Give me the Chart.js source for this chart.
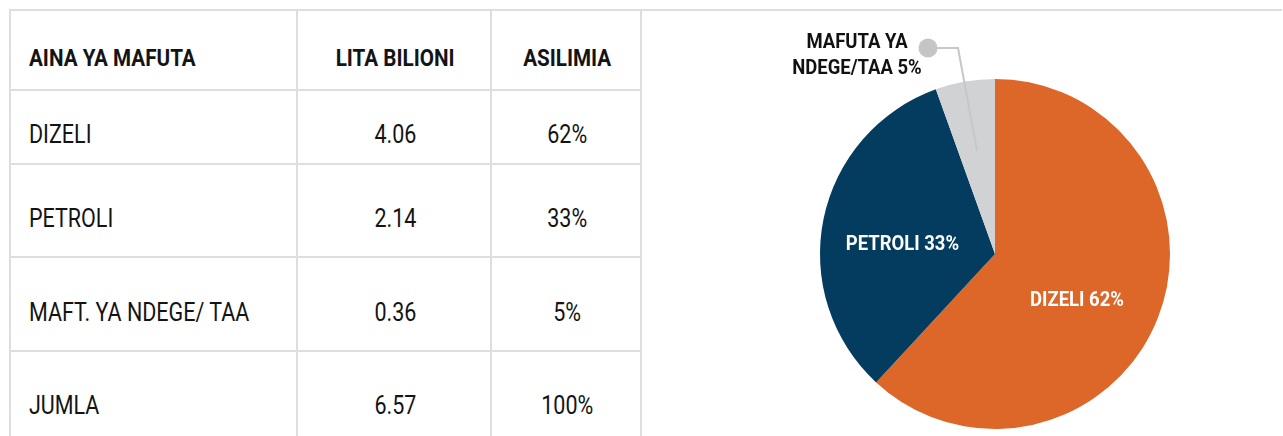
<!DOCTYPE html>
<html>
<head>
<meta charset="utf-8">
<script src="https://cdn.jsdelivr.net/npm/chart.js@4"></script>
<style>
    html, body { margin: 0; padding: 0; background: #fff; }
    body { width: 1283px; height: 436px; position: relative; overflow: hidden; font-family: Roboto, "Noto Sans", sans-serif; color: #141414; }
    .rule { position: absolute; background: #dedede; }
    .cell { position: absolute; font-size: 25px; line-height: 30px; white-space: nowrap; }
    .cell span { display: inline-block; transform: scaleX(0.86); }
    .cell.left span { transform-origin: left center; }
    .cell.mid { text-align: center; }
    .cell.mid span { transform-origin: center center; }
    .cell.head { font-weight: 700; font-size: 24px; }
    #pieBox { position: absolute; left: 643px; top: 12px; width: 640px; height: 424px; }
</style>
</head>
<body>
<div id="sheet"></div>
<div id="pieBox"><canvas id="pie"></canvas></div>
<script>
// table data
const headers = ["AINA YA MAFUTA", "LITA BILIONI", "ASILIMIA"];
const fuelTypes = ["DIZELI", "PETROLI", "MAFT. YA NDEGE/ TAA"];
const litresBn = [4.06, 2.14, 0.36];
const shares = ["62%", "33%", "5%"];
const totalRow = ["JUMLA", "6.57", "100%"];

// pie
const pieLabels = [["DIZELI 62%"], ["PETROLI 33%"], ["MAFUTA YA", "NDEGE/TAA 5%"]];
const pieColors = ["#dc6729", "#033c5e", "#d1d2d4"];

// table geometry
const colEdges = [10, 297, 491, 641];
const rowEdges = [10, 90, 164, 257, 351];
const textMid = [58, 135, 219, 313, 406];

const sheet = document.getElementById("sheet");

function rule(x, y, w, h) {
    const d = document.createElement("div");
    d.className = "rule";
    d.style.left = x + "px";
    d.style.top = y + "px";
    d.style.width = w + "px";
    d.style.height = h + "px";
    sheet.appendChild(d);
}

function cell(row, col, text, bold) {
    const d = document.createElement("div");
    d.className = "cell " + (col === 0 ? "left" : "mid") + (bold ? " head" : "");
    const x0 = colEdges[col], x1 = colEdges[col + 1];
    if (col === 0) {
        d.style.left = (x0 + 19) + "px";
    } else {
        d.style.left = (x0 + 1) + "px";
        d.style.width = (x1 - x0) + "px";
    }
    d.style.top = (textMid[row] - 14.7) + "px";
    const s = document.createElement("span");
    s.textContent = text;
    d.appendChild(s);
    sheet.appendChild(d);
}

// grid lines
rule(colEdges[0] - 1, rowEdges[0] - 1, 1283 - colEdges[0], 2);
rowEdges.slice(1).forEach(y => rule(colEdges[0] - 1, y - 1, colEdges[3] - colEdges[0] + 1, 2));
colEdges.forEach(x => rule(x - 1, rowEdges[0] - 1, 2, 436));

const rows = [headers];
fuelTypes.forEach((f, i) => rows.push([f, litresBn[i].toFixed(2), shares[i]]));
rows.push(totalRow);
rows.forEach((r, ri) => r.forEach((t, ci) => cell(ri, ci, t, ri === 0)));

// slice labels, drawn over the arcs
const sliceLabels = {
    id: "sliceLabels",
    afterDraw(chart, args, opts) {
        const ctx = chart.ctx;
        const arcs = chart.getDatasetMeta(0).data;
        ctx.save();
        ctx.font = "bold 21px Roboto, sans-serif";
        ctx.textAlign = "center";
        ctx.textBaseline = "middle";
        arcs.forEach((arc, i) => {
            const mid = (arc.startAngle + arc.endAngle) / 2;
            const lines = pieLabels[i];
            if (i < 2) {
                const r = arc.outerRadius * opts.inside[i].r;
                const x = arc.x + Math.cos(mid) * r + opts.inside[i].dx;
                const y = arc.y + Math.sin(mid) * r + opts.inside[i].dy;
                ctx.fillStyle = "#ffffff";
                ctx.save();
                ctx.translate(x, y);
                ctx.scale(0.88, 1);
                ctx.fillText(lines[0], 0, 0);
                ctx.restore();
            } else {
                const o = opts.outside;
                const r = arc.outerRadius * o.r;
                const px = arc.x + Math.cos(mid) * r;
                const py = arc.y + Math.sin(mid) * r;
                const ex = arc.x + o.elbow[0], ey = arc.y + o.elbow[1];
                const dx = arc.x + o.dot[0], dy = arc.y + o.dot[1];
                ctx.strokeStyle = "#c6c7c9";
                ctx.lineWidth = 2;
                ctx.beginPath();
                ctx.moveTo(px, py);
                ctx.lineTo(ex, ey);
                ctx.lineTo(dx, dy);
                ctx.stroke();
                ctx.fillStyle = "#c4c5c7";
                ctx.beginPath();
                ctx.arc(dx, dy, 9.5, 0, Math.PI * 2);
                ctx.fill();
                ctx.fillStyle = "#111111";
                lines.forEach((t, k) => {
                    ctx.save();
                    ctx.translate(arc.x + o.text[0], arc.y + o.text[1] + k * 26);
                    ctx.scale(0.88, 1);
                    ctx.fillText(t, 0, 0);
                    ctx.restore();
                });
            }
        });
        ctx.restore();
    }
};

new Chart(document.getElementById("pie"), {
    type: "pie",
    data: {
        labels: fuelTypes,
        datasets: [{
            data: litresBn,
            backgroundColor: pieColors,
            borderWidth: 0,
        }],
    },
    options: {
        responsive: true,
        maintainAspectRatio: false,
        animation: false,
        layout: {
            padding: { top: 67, bottom: 7, left: 177, right: 113 },
        },
        plugins: {
            legend: { display: false },
            tooltip: { enabled: false },
            sliceLabels: {
                inside: [
                    { r: 0.54, dx: -6, dy: 12 },
                    { r: 0.54, dx: 0, dy: 10 },
                ],
                outside: {
                    r: 0.6,
                    elbow: [-37, -206],
                    dot: [-67, -206],
                    text: [-138, -211],
                },
            },
        },
    },
    plugins: [sliceLabels],
});
</script>
</body>
</html>
